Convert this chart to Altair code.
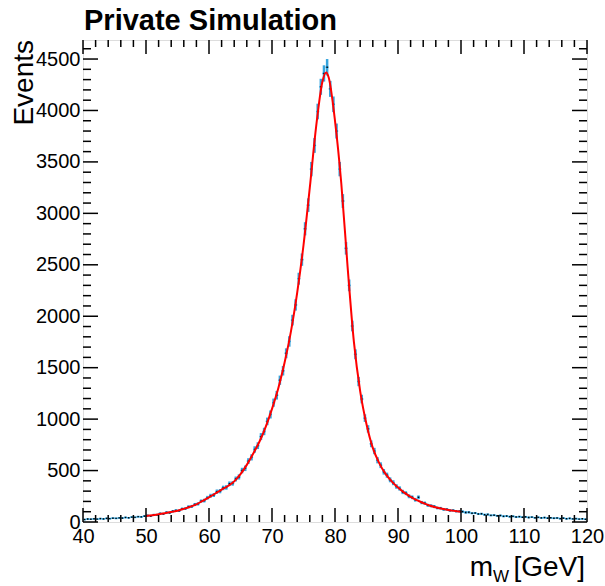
import altair as alt
import pandas as pd

# ---- histogram (0.5 GeV bins from 40 to 120) ----
counts = [
    24, 29, 27, 31, 28, 33, 30, 35, 33, 37, 35, 40, 38, 44, 41, 47, 45, 52, 50, 57,
    63, 58, 70, 69, 82, 79, 93, 90, 104, 112, 109, 128, 130, 148, 151, 170, 176, 203, 208, 236,
    255, 262, 295, 300, 331, 336, 372, 375, 418, 438, 500, 522, 592, 628, 705, 742, 830, 880, 978, 1045,
    1160, 1232, 1378, 1470, 1640, 1755, 1962, 2110, 2365, 2550, 2850, 3080, 3430, 3660, 3990, 4230, 4360, 4420, 4210, 4060,
    3800, 3430, 3120, 2660, 2300, 1905, 1630, 1365, 1195, 1010, 905, 760, 690, 600, 552, 488, 455, 410, 382, 345,
    326, 292, 280, 250, 240, 216, 240, 189, 183, 162, 158, 150, 136, 134, 122, 123, 112, 113, 104, 104,
    101, 93, 94, 85, 87, 78, 80, 71, 73, 64, 66, 60, 63, 55, 58, 52, 55, 48, 52, 46,
    50, 44, 47, 41, 45, 40, 43, 37, 41, 36, 39, 33, 37, 32, 35, 30, 33, 28, 31, 26,
]
errors = [
    6, 6, 6, 6, 6, 7, 6, 7, 7, 7, 7, 7, 7, 7, 7, 7, 7, 8, 8, 8,
    9, 9, 10, 10, 10, 10, 12, 12, 12, 12, 12, 13, 13, 15, 15, 15, 16, 16, 18, 18,
    19, 19, 21, 21, 22, 22, 22, 22, 24, 25, 27, 27, 28, 30, 31, 33, 34, 36, 37, 39,
    40, 42, 45, 46, 48, 51, 52, 55, 58, 60, 64, 66, 70, 72, 76, 78, 79, 80, 78, 76,
    73, 70, 67, 61, 57, 52, 48, 45, 42, 37, 36, 33, 31, 30, 28, 27, 25, 24, 24, 22,
    21, 21, 19, 19, 18, 18, 18, 16, 16, 15, 15, 15, 13, 13, 13, 13, 12, 12, 12, 12,
    12, 12, 12, 10, 10, 10, 10, 10, 10, 9, 9, 9, 9, 9, 9, 9, 9, 9, 9, 8,
    9, 8, 8, 8, 8, 8, 8, 8, 8, 8, 8, 8, 8, 8, 8, 6, 8, 6, 6, 6,
]
bin_width = 0.5
bin_lo = [40 + bin_width * i for i in range(len(counts))]

# ---- fit curve (50 - 100 GeV) ----
fit_x = [50, 51, 52, 53, 54, 55, 56, 57, 58, 59, 60, 61, 62, 63, 64, 65, 66, 67, 68, 69,
         70, 71, 72, 73, 74, 75, 76, 77, 78, 78.6, 79, 80, 81, 82, 83, 84, 85, 86, 87, 88,
         89, 90, 91, 92, 93, 94, 95, 96, 97, 98, 99, 100]
fit_y = [58, 65, 75, 86, 97, 110, 128, 148, 172, 205, 240, 277, 315, 350, 395, 465, 555, 663, 780, 925,
         1100, 1300, 1550, 1850, 2230, 2690, 3250, 3840, 4280, 4370, 4320, 3900, 3290, 2480, 1750, 1270, 950, 720, 575, 470,
         395, 335, 285, 245, 213, 185, 160, 143, 128, 117, 108, 100]

# ---- axis ticks ----
x_major = [40, 50, 60, 70, 80, 90, 100, 110, 120]
x_minor = [42, 44, 46, 48, 52, 54, 56, 58, 62, 64, 66, 68, 72, 74, 76, 78, 82, 84, 86, 88,
           92, 94, 96, 98, 102, 104, 106, 108, 112, 114, 116, 118]
y_major = [0, 500, 1000, 1500, 2000, 2500, 3000, 3500, 4000, 4500]
y_minor = [v for v in range(100, 4700, 100) if v % 500 != 0]

X_DOMAIN = [40, 120]
Y_DOMAIN = [0, 4685]
W, H = 504, 482
BLUE = "#35a4dd"
FONT = "Liberation Sans"

hist = pd.DataFrame({
    "lo": bin_lo,
    "hi": [v + bin_width for v in bin_lo],
    "c": [v + bin_width / 2 for v in bin_lo],
    "n": counts,
    "err": errors,
})
hist["low"] = hist["n"] - hist["err"]
hist["high"] = hist["n"] + hist["err"]
fit = pd.DataFrame({"x": fit_x, "y": fit_y})

xs = alt.Scale(domain=X_DOMAIN, nice=False, zero=False)
ys = alt.Scale(domain=Y_DOMAIN, nice=False, zero=False)

xaxis = alt.Axis(values=x_major, ticks=False, domain=False, grid=False, title=None,
                 labelFontSize=20, labelFont=FONT, labelColor="black", labelPadding=4,
                 labelOverlap=False, labelFlush=False, format="d")
yaxis = alt.Axis(values=y_major, ticks=False, domain=False, grid=False, title=None,
                 labelFontSize=20, labelFont=FONT, labelColor="black", labelPadding=3,
                 labelOverlap=False, labelFlush=False, format="d")


def X(field):
    return alt.X(field, scale=xs, axis=xaxis, title=None)


def Y(field):
    return alt.Y(field, scale=ys, axis=yaxis, title=None)


base_h = alt.Chart(hist)

vbars = base_h.mark_rule(color=BLUE, strokeWidth=2.5).encode(
    x=X("c:Q"), y=Y("low:Q"), y2="high:Q",
)
hbars = base_h.mark_rule(color=BLUE, strokeWidth=1.5).encode(
    x=X("lo:Q"), x2="hi:Q", y=Y("n:Q"),
)
markers = base_h.mark_square(color="black", size=2, opacity=1).encode(
    x=X("c:Q"), y=Y("n:Q"),
)
fitline = alt.Chart(fit).mark_line(color="#ff0000", strokeWidth=2, interpolate="monotone").encode(
    x=X("x:Q"), y=Y("y:Q"),
)


def xticks(vals, length):
    df = pd.DataFrame({"t": vals})
    b = alt.Chart(df).mark_rule(color="black", strokeWidth=1.5).encode(
        x=X("t:Q"), y=alt.value(H), y2=alt.value(H - length))
    t = alt.Chart(df).mark_rule(color="black", strokeWidth=1.5).encode(
        x=X("t:Q"), y=alt.value(0), y2=alt.value(length))
    return [b, t]


def yticks(vals, length):
    df = pd.DataFrame({"t": vals})
    l = alt.Chart(df).mark_rule(color="black", strokeWidth=1.5).encode(
        y=Y("t:Q"), x=alt.value(0), x2=alt.value(length))
    r = alt.Chart(df).mark_rule(color="black", strokeWidth=1.5).encode(
        y=Y("t:Q"), x=alt.value(W), x2=alt.value(W - length))
    return [l, r]


tick_layers = xticks(x_major, 14) + xticks(x_minor, 7) + yticks(y_major, 15) + yticks(y_minor, 8)

title = alt.Chart(pd.DataFrame({"s": ["Private Simulation"]})).mark_text(
    font=FONT, fontSize=29, fontWeight="bold", align="left", baseline="alphabetic", color="black"
).encode(text="s:N", x=alt.value(1), y=alt.value(-10))

ytitle = alt.Chart(pd.DataFrame({"s": ["Events"]})).mark_text(
    font=FONT, fontSize=28, align="right", baseline="alphabetic", angle=270, color="black"
).encode(text="s:N", x=alt.value(-50), y=alt.value(0))

xt_m = alt.Chart(pd.DataFrame({"s": ["m"]})).mark_text(
    font=FONT, fontSize=28, align="right", baseline="alphabetic", color="black"
).encode(text="s:N", x=alt.value(410), y=alt.value(536))
xt_w = alt.Chart(pd.DataFrame({"s": ["W"]})).mark_text(
    font=FONT, fontSize=17, align="left", baseline="alphabetic", color="black"
).encode(text="s:N", x=alt.value(410), y=alt.value(542))
xt_gev = alt.Chart(pd.DataFrame({"s": ["[GeV]"]})).mark_text(
    font=FONT, fontSize=28, align="right", baseline="alphabetic", color="black"
).encode(text="s:N", x=alt.value(502), y=alt.value(536))

chart = alt.layer(
    vbars, hbars, markers, fitline, *tick_layers, title, ytitle, xt_m, xt_w, xt_gev
).properties(
    width=W, height=H,
    autosize=alt.AutoSizeParams(type="none"),
    padding={"left": 83, "top": 40, "right": 18, "bottom": 64},
).configure_view(
    stroke="black", strokeWidth=2
).configure(background="white")

chart.save("out.html", embed_options={"renderer": "svg", "actions": False})
